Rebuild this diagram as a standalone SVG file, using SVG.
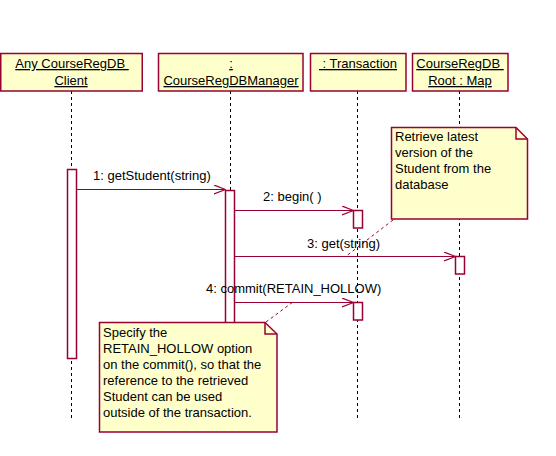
<svg xmlns="http://www.w3.org/2000/svg" width="556" height="456" viewBox="0 0 556 456">
<style>
.box{fill:#FFFFCC;stroke:#990033;stroke-width:1.5}
.act{fill:#FFFFFF;stroke:#990033;stroke-width:1.5}
.life{stroke:#000;stroke-width:1;stroke-dasharray:3,3;fill:none}
.msg{stroke:#990033;stroke-width:1.2;fill:none}
.anc{stroke:#990033;stroke-width:1;stroke-dasharray:3,3;fill:none}
text{font-family:"Liberation Sans",Arial,sans-serif;font-size:13px;fill:#000}
.u{text-decoration:underline}
.c{text-anchor:middle}
</style>
<defs>
<marker id="arr" viewBox="0 0 12 10" refX="11.5" refY="5" markerWidth="12" markerHeight="10" markerUnits="userSpaceOnUse" orient="auto">
<path d="M0,0.5 L11.5,5 M0,9.5 L11.5,5" stroke="#990033" stroke-width="1.2" fill="none"/>
</marker>
</defs>
<rect width="556" height="456" fill="#fff"/>
<g id="lifelines">
<line class="life" x1="71.5" y1="91" x2="71.5" y2="419"/>
<line class="life" x1="230.5" y1="91" x2="230.5" y2="419"/>
<line class="life" x1="357.5" y1="91" x2="357.5" y2="419"/>
<line class="life" x1="459.5" y1="91" x2="459.5" y2="419"/>
</g>
<g id="obj-client">
<rect class="box" x="0.75" y="53.5" width="141.5" height="37.5"/>
<text class="u c" x="72" y="68" xml:space="preserve">Any CourseRegDB </text>
<text class="u c" x="71" y="85">Client</text>
</g>
<g id="obj-manager">
<rect class="box" x="158.5" y="53.5" width="144.5" height="37.5"/>
<text class="u c" x="231" y="68">:</text>
<text class="u c" x="231" y="85">CourseRegDBManager</text>
</g>
<g id="obj-transaction">
<rect class="box" x="310.5" y="53.5" width="95.5" height="37.5"/>
<text class="u c" x="358" y="68" xml:space="preserve"> : Transaction</text>
</g>
<g id="obj-root">
<rect class="box" x="412.5" y="53.5" width="95.5" height="37.5"/>
<text class="u c" x="460" y="68" xml:space="preserve">CourseRegDB </text>
<text class="u c" x="460" y="85">Root : Map</text>
</g>
<g id="activations">
<rect class="act" x="67.5" y="169.5" width="9" height="189"/>
<rect class="act" x="225.5" y="190.5" width="9" height="160"/>
<rect class="act" x="353.5" y="210.5" width="9" height="17.5"/>
<rect class="act" x="455.5" y="256.5" width="9" height="17.5"/>
<rect class="act" x="353.5" y="302.5" width="9" height="17.5"/>
</g>
<g id="connectors">
<line class="msg" x1="76.5" y1="189.5" x2="225.5" y2="189.5" marker-end="url(#arr)"/>
<line class="msg" x1="234.5" y1="210.5" x2="353.5" y2="210.5" marker-end="url(#arr)"/>
<line class="msg" x1="234.5" y1="256.5" x2="455.5" y2="256.5" marker-end="url(#arr)"/>
<line class="msg" x1="234.5" y1="302.5" x2="353.5" y2="302.5" marker-end="url(#arr)"/>
<line class="anc" x1="393" y1="220" x2="345" y2="257"/>
<line class="anc" x1="266" y1="322" x2="293" y2="302"/>
<text x="93" y="180">1: getStudent(string)</text>
<text x="263" y="201">2: begin( )</text>
<text x="307" y="248">3: get(string)</text>
<text x="206" y="293">4: commit(RETAIN_HOLLOW)</text>
</g>
<g id="note-retrieve">
<path class="box" d="M391.5,127.5 H516 L527.5,139 V219 H391.5 Z"/>
<path d="M516,127.5 V139 H527.5" fill="none" stroke="#990033" stroke-width="1.5"/>
<text x="395" y="141">Retrieve latest</text>
<text x="395" y="157">version of the</text>
<text x="395" y="173">Student from the</text>
<text x="395" y="189">database</text>
</g>
<g id="note-retain">
<path class="box" d="M99.5,322.5 H265 L277,334 V432 H99.5 Z"/>
<path d="M265,322.5 V334 H277" fill="none" stroke="#990033" stroke-width="1.5"/>
<text x="103" y="337">Specify the</text>
<text x="103" y="353">RETAIN_HOLLOW option</text>
<text x="103" y="369">on the commit(), so that the</text>
<text x="103" y="385">reference to the retrieved</text>
<text x="103" y="401">Student can be used</text>
<text x="103" y="417">outside of the transaction.</text>
</g>
</svg>
